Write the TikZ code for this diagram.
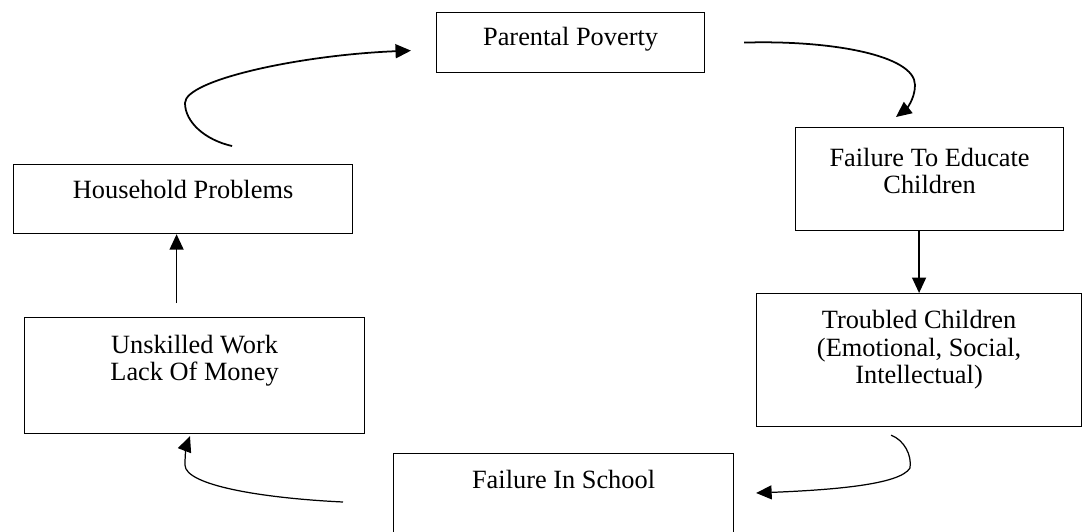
\documentclass[tikz,border=0pt]{standalone}
\usepackage{fontspec}
\setmainfont{Liberation Serif}
\usetikzlibrary{arrows.meta,calc,positioning}
\tikzstyle{stage} = [draw,line width=0.7pt,inner sep=0pt,align=center,anchor=north west,font=\fontsize{15pt}{15.6pt}\selectfont]
\tikzstyle{flow} = [line width=0.9pt,-{Triangle[length=0.31cm,width=0.28cm]}]
\tikzstyle{thinflow} = [flow,line width=0.7pt]

\begin{document}
\begin{tikzpicture}[x=0.02cm,y=-0.02cm]
	\useasboundingbox (0,0) rectangle (1082,531);
	\node (pov) at (436,12) [stage,minimum width=5.36cm,text height=0.66cm,text depth=0.54cm] {Parental Poverty};
	\node (edu) at (795,127) [stage,minimum width=5.36cm,text height=1.32cm,text depth=0.74cm] {Failure To Educate\\Children};
	\node (tro) at (756,293) [stage,minimum width=6.5cm,text height=1.8cm,text depth=0.86cm] {Troubled Children\\(Emotional, Social,\\Intellectual)};
	\node (sch) at (393,453) [stage,minimum width=6.8cm,text height=0.7cm,text depth=1.2cm] {Failure In School};
	\node (wrk) at (24,317) [stage,minimum width=6.8cm,text height=1.26cm,text depth=1.06cm] {Unskilled Work\\Lack Of Money};
	\node (hh) at (13,164) [stage,minimum width=6.78cm,text height=0.68cm,text depth=0.7cm] {Household Problems};

	\coordinate (a1s) at ($(hh.north)+(49,-18)$);
	\coordinate (a1m) at (185,103);
	\coordinate (a1e) at ($(pov.west)+(-25,8)$);
	\coordinate (a2s) at ($(pov.east)+(39,0)$);
	\coordinate (a2m) at (915,85);
	\coordinate (a2e) at ($(edu.north west)+(101,-10)$);
	\coordinate (a4s) at ($(tro.south)+(-28,8)$);
	\coordinate (a4m) at (910,468);
	\coordinate (a4e) at ($(sch.north east)+(22,40)$);
	\coordinate (a5s) at ($(sch.north west)+(-50,49)$);
	\coordinate (a5m) at (185,465);
	\coordinate (a5e) at ($(wrk.south west)+(166,2)$);
	\coordinate (a6s) at ($(wrk.north)+(-18,-14)$);

	\draw[flow,line width=1pt] (a1s) .. controls (205,140) and (185,122) .. (a1m) .. controls (185,80) and (300,55) .. (a1e);
	\draw[flow,line width=1pt] (a2s) .. controls (830,40) and (915,55) .. (a2m) .. controls (915,100) and (905,110) .. (a2e);
	\draw[flow] (tro.north |- edu.south) -- (tro.north);
	\draw[thinflow] (a4s) .. controls (904,440) and (912,455) .. (a4m) .. controls (900,485) and (830,490) .. (a4e);
	\draw[thinflow] (a5s) .. controls (260,498) and (185,485) .. (a5m) .. controls (185,450) and (187,444) .. (a5e);
	\draw[flow] (a6s) -- (a6s |- hh.south);
\end{tikzpicture}
\end{document}
